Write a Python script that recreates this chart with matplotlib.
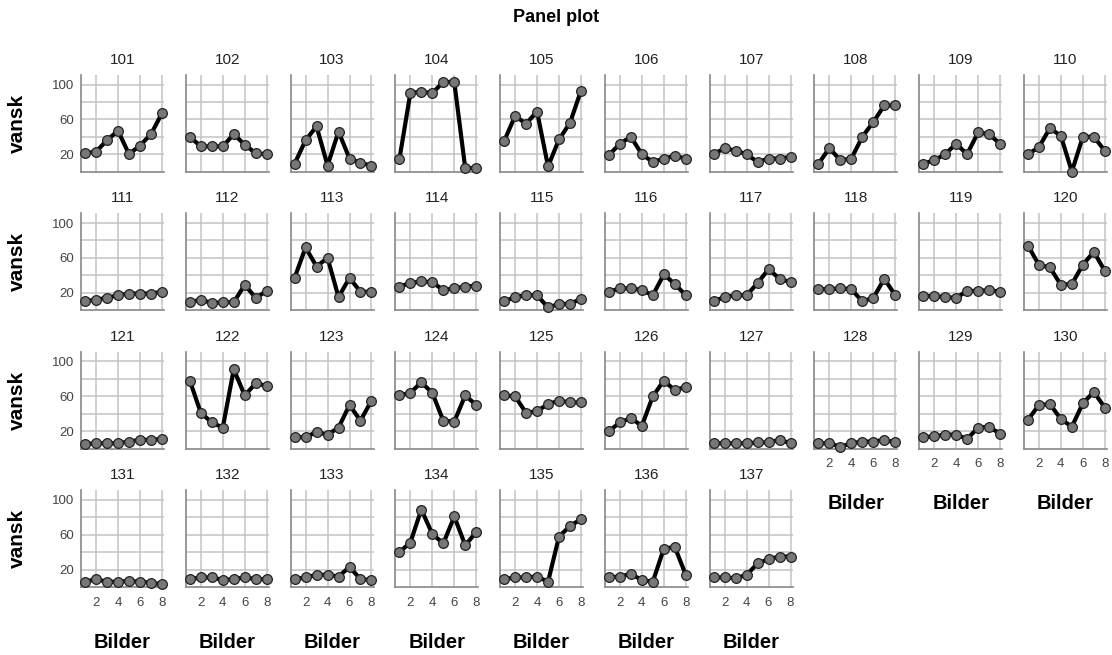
import matplotlib
matplotlib.use('Agg')
import matplotlib.pyplot as plt

plt.rcParams['font.family'] = ['Liberation Sans', 'DejaVu Sans']

ids = list(range(101, 138))
bilder = [1, 2, 3, 4, 5, 6, 7, 8]

# vansk values per id
vansk = {
    101: [21, 23, 36, 47, 20, 30, 43, 67],
    102: [40, 29, 29, 29, 43, 31, 21, 20],
    103: [9, 36, 52, 7, 46, 15, 10, 7],
    104: [14, 90, 92, 90, 103, 103, 4, 4],
    105: [35, 64, 55, 69, 6, 37, 56, 93],
    106: [19, 32, 40, 20, 11, 15, 18, 15],
    107: [20, 27, 24, 20, 11, 15, 15, 17],
    108: [9, 27, 13, 15, 40, 57, 76, 76],
    109: [9, 13, 20, 32, 20, 45, 43, 32],
    110: [20, 28, 50, 41, 0, 40, 40, 24],
    111: [10, 12, 14, 17, 19, 19, 19, 21],
    112: [9, 12, 8, 9, 9, 29, 14, 22],
    113: [37, 72, 50, 60, 15, 37, 21, 21],
    114: [27, 31, 33, 32, 23, 25, 27, 28],
    115: [10, 15, 17, 17, 3, 7, 7, 13],
    116: [21, 25, 25, 23, 17, 41, 30, 17],
    117: [10, 15, 17, 17, 31, 47, 36, 32],
    118: [24, 24, 25, 24, 10, 14, 36, 17],
    119: [16, 16, 15, 14, 22, 22, 23, 21],
    120: [74, 52, 49, 29, 30, 52, 67, 45],
    121: [5, 6, 6, 6, 8, 10, 10, 11],
    122: [78, 41, 30, 24, 91, 61, 75, 72],
    123: [13, 13, 19, 16, 24, 50, 32, 55],
    124: [61, 64, 76, 64, 32, 31, 61, 50],
    125: [61, 60, 41, 43, 51, 55, 53, 53],
    126: [20, 30, 35, 26, 60, 78, 67, 71],
    127: [6, 6, 6, 6, 7, 7, 10, 6],
    128: [6, 6, 2, 6, 8, 8, 10, 7],
    129: [13, 14, 16, 16, 11, 24, 25, 17],
    130: [33, 50, 51, 34, 25, 52, 65, 47],
    131: [6, 9, 6, 6, 7, 6, 5, 3],
    132: [9, 11, 11, 8, 9, 11, 9, 9],
    133: [9, 11, 14, 14, 12, 23, 9, 8],
    134: [40, 51, 89, 61, 50, 81, 48, 63],
    135: [9, 11, 11, 12, 6, 58, 70, 78],
    136: [11, 12, 15, 8, 6, 44, 46, 14],
    137: [11, 11, 10, 14, 27, 32, 35, 35],
}

nrows, ncols = 4, 10
fig, axes = plt.subplots(nrows, ncols, figsize=(11.12, 6.55), dpi=100)
fig.subplots_adjust(left=81 / 1112, right=1107 / 1112,
                    top=1 - 75 / 655, bottom=1 - 587 / 655,
                    wspace=0.26, hspace=0.433)

grid_col = '#c4c4c4'
spine_col = '#888888'

for i, ax in enumerate(axes.flat):
    if i >= len(ids):
        ax.axis('off')
        continue
    pid = ids[i]
    row, col = divmod(i, ncols)
    ax.plot(bilder, vansk[pid], color='black', lw=3.0, zorder=3,
            marker='o', ms=7, mfc='#777777', mec='#222222', mew=0.9,
            clip_on=False)
    ax.set_xlim(0.63, 8.2)
    ax.set_ylim(0, 111)
    ax.set_xticks([2, 4, 6, 8])
    ax.set_yticks([20, 40, 60, 80, 100])
    ax.grid(True, color=grid_col, lw=1.1, zorder=0)
    ax.set_axisbelow(True)
    for s in ['top', 'right']:
        ax.spines[s].set_visible(False)
    for s in ['left', 'bottom']:
        ax.spines[s].set_color(spine_col)
        ax.spines[s].set_linewidth(1.2)
    ax.tick_params(length=0, labelsize=9.5, colors='#444444')
    ax.tick_params(axis='x', pad=7)
    ax.tick_params(axis='y', pad=5)
    ax.set_title(str(pid), fontsize=11, color='#222222', pad=8)

    if col == 0:
        ax.set_yticklabels(['20', '', '60', '', '100'])
        ax.text(-0.77, 0.5, 'vansk', transform=ax.transAxes, rotation=90,
                fontsize=15, fontweight='bold', ha='center', va='center')
    else:
        ax.set_yticklabels([])

    # bottom panel of each column gets x labels
    below = i + ncols
    if below >= len(ids):
        ax.set_xticklabels(['2', '4', '6', '8'])
        ax.text(0.5, -0.57, 'Bilder', transform=ax.transAxes,
                fontsize=14.5, fontweight='bold', ha='center', va='center')
    else:
        ax.set_xticklabels([])

fig.suptitle('Panel plot', fontsize=13, fontweight='bold', y=1 - 18 / 655,
             va='center')

fig.savefig('out.png', dpi=100)
